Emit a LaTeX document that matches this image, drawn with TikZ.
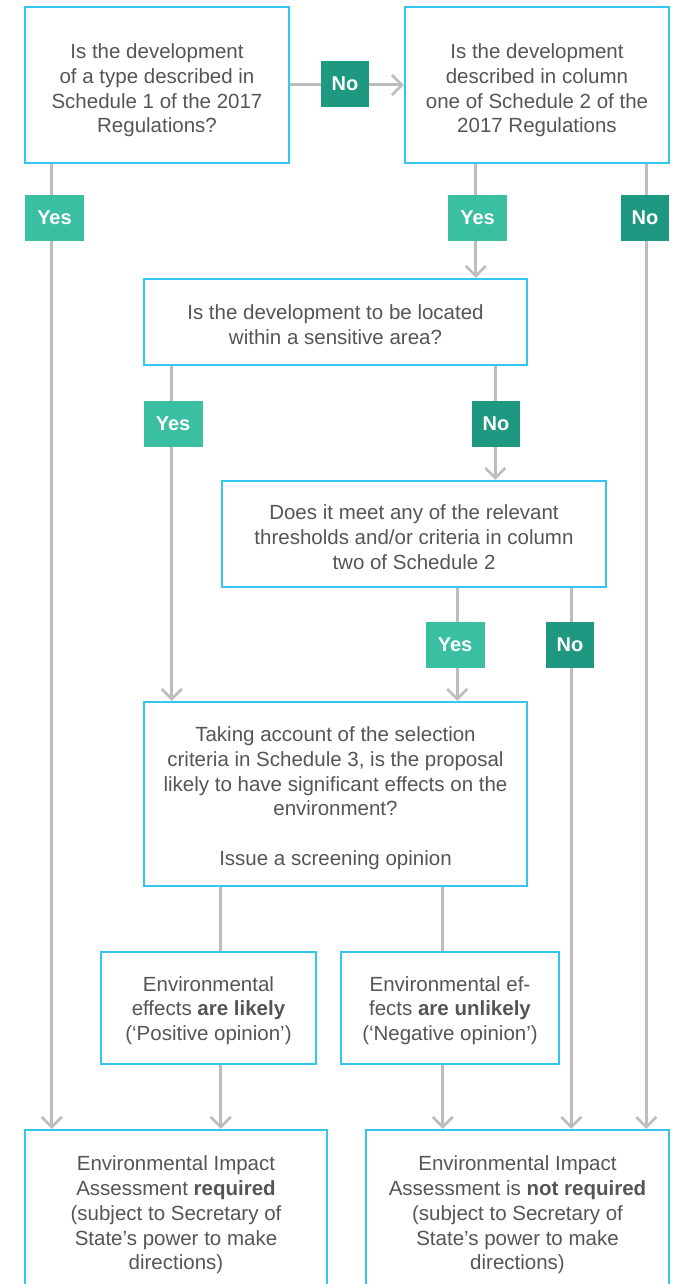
\documentclass[tikz,border=0pt]{standalone}
\usepackage{fontspec}
\setmainfont{Liberation Sans}
\usetikzlibrary{arrows.meta,calc}
\definecolor{boxc}{HTML}{33C6EF}
\definecolor{yesc}{HTML}{3BBFA3}
\definecolor{noc}{HTML}{1F9882}
\definecolor{linec}{HTML}{BDBDBD}
\definecolor{txt}{HTML}{555555}
\newcommand\dropby[1]{\rule{0pt}{#1}}
\begin{document}
\begin{tikzpicture}[x=1pt,y=-1pt,
 box/.style={draw=boxc,line width=2.5pt,fill=white,align=center,text=txt,font=\fontsize{20.5}{24.7}\selectfont,inner sep=0pt},
 conn/.style={draw=linec,line width=3pt},
 arr/.style={conn,-{Straight Barb[length=10pt,width=20pt,line width=2.5pt]}},
 yes/.style={fill=yesc,text=white,font=\fontsize{20}{22}\selectfont\bfseries,minimum width=59pt,minimum height=46pt,inner sep=0pt},
 no/.style={yes,fill=noc,minimum width=48pt}]
\useasboundingbox (0,0) rectangle (675,1284);
\fill[white] (0,0) rectangle (675,1284);
\clip (0,0) rectangle (675,1284);

\node[box,minimum width=264pt,minimum height=156pt] (b1) at (157,85) {\dropby{26pt}Is the development\\of a type described in\\Schedule 1 of the 2017\\Regulations?};
\node[box,minimum width=264pt,minimum height=156pt] (b2) at (537,85) {\dropby{26pt}Is the development\\described in column\\one of Schedule 2 of the\\2017 Regulations};
\node[box,minimum width=383pt,minimum height=86pt] (b3) at (335.5,322) {\dropby{20pt}Is the development to be located\\within a sensitive area?};
\node[box,minimum width=384pt,minimum height=106pt] (b4) at (414,534) {\dropby{21.5pt}Does it meet any of the relevant\\thresholds and/or criteria in column\\two of Schedule 2};
\node[box,minimum width=383pt,minimum height=184pt] (b5) at (335.5,794) {\dropby{23pt}Taking account of the selection\\criteria in Schedule 3, is the proposal\\likely to have significant effects on the\\environment?\\[24.7pt]Issue a screening opinion};
\node[box,minimum width=215pt,minimum height=112pt] (b6) at (208.5,1008) {\dropby{20pt}Environmental\\effects \textbf{are likely}\\(‘Positive opinion’)};
\node[box,minimum width=218pt,minimum height=112pt] (b7) at (450,1008) {\dropby{20pt}Environmental ef-\\fects \textbf{are unlikely}\\(‘Negative opinion’)};
\node[box,minimum width=302pt,minimum height=164pt] (b8) at (176,1212) {\dropby{21pt}Environmental Impact\\Assessment \textbf{required}\\(subject to Secretary of\\State’s power to make\\directions)};
\node[box,minimum width=303pt,minimum height=164pt] (b9) at (517.5,1212) {\dropby{21pt}Environmental Impact\\Assessment is \textbf{not required}\\(subject to Secretary of\\State’s power to make\\directions)};

% connectors
\draw[arr] (b1.east) -- (b2.west);
\draw[arr] ([xshift=28pt]b1.south west) -- ([xshift=28pt]b8.north west);
\draw[arr] ([xshift=72pt]b2.south west) -- ([xshift=72pt]b2.south west |- b3.north);
\draw[arr] ([xshift=-24pt]b2.south east) -- ([xshift=-24pt]b9.north east);
\draw[arr] ([xshift=29pt]b3.south west) -- ([xshift=29pt]b5.north west);
\draw[arr] ([xshift=-33pt]b3.south east) -- ([xshift=-33pt]b3.south east |- b4.north);
\draw[arr] ([xshift=-150pt]b4.south east) -- ([xshift=-150pt]b4.south east |- b5.north);
\draw[arr] ([xshift=-36pt]b4.south east) -- ([xshift=-36pt]b4.south east |- b9.north);
\draw[conn] ([xshift=78pt]b5.south west) -- ([xshift=78pt]b5.south west |- b6.north);
\draw[conn] ([xshift=300pt]b5.south west) -- ([xshift=300pt]b5.south west |- b7.north);
\draw[arr] ([xshift=78pt]b5.south west |- b6.south) -- ([xshift=78pt]b5.south west |- b8.north);
\draw[arr] ([xshift=300pt]b5.south west |- b7.south) -- ([xshift=300pt]b5.south west |- b9.north);

% labels
\node[no] (l1) at (345,84) {No};
\node[yes] (l2) at (54.5,218) {Yes};
\node[yes] (l3) at (477.5,218) {Yes};
\node[no] (l4) at (645,218) {No};
\node[yes] (l5) at (173,423.5) {Yes};
\node[no] (l6) at (496,423.5) {No};
\node[yes] (l7) at (455,645) {Yes};
\node[no] (l8) at (570,645) {No};
\end{tikzpicture}
\end{document}
